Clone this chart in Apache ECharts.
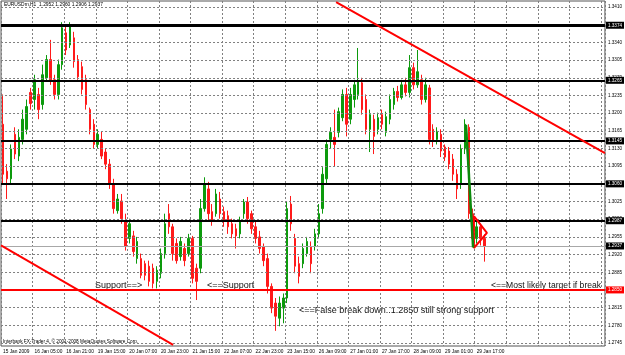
<!DOCTYPE html>
<html><head><meta charset="utf-8">
<script src="https://cdn.jsdelivr.net/npm/echarts@6/dist/echarts.min.js"></script>
<style>html,body{margin:0;padding:0;background:#fff}#c{width:625px;height:355px}</style>
</head><body><div id="c"></div>
<script>
// ---- data ----
const xLabels = ["15 Jan 2009","16 Jan 05:00","16 Jan 21:00","19 Jan 15:00","20 Jan 07:00","20 Jan 23:00","21 Jan 15:00","22 Jan 07:00","22 Jan 23:00","23 Jan 15:00","26 Jan 09:00","27 Jan 01:00","27 Jan 17:00","28 Jan 09:00","29 Jan 01:00","29 Jan 17:00"];
const barsPerLabel = 8;
const totalSlots = 153;
const yTicks = [1.3410,1.3375,1.3340,1.3305,1.3270,1.3235,1.3200,1.3165,1.3130,1.3095,1.3060,1.3025,1.2990,1.2955,1.2920,1.2885,1.2850,1.2815,1.2780,1.2745];
// [open, close, low, high]
const candles = [
[1.3178,1.3079,1.3060,1.3237],[1.3085,1.3070,1.3030,1.3099],[1.3070,1.3129,1.3060,1.3138],[1.3158,1.3119,1.3109,1.3172],
[1.3115,1.3152,1.3105,1.3168],[1.3148,1.3188,1.3138,1.3207],[1.3168,1.3213,1.3158,1.3227],[1.3241,1.3219,1.3207,1.3250],
[1.3227,1.3266,1.3207,1.3276],[1.3237,1.3207,1.3188,1.3250],[1.3217,1.3276,1.3207,1.3296],[1.3270,1.3306,1.3262,1.3315],
[1.3306,1.3266,1.3256,1.3345],[1.3266,1.3237,1.3227,1.3276],[1.3237,1.3296,1.3227,1.3306],[1.3296,1.3369,1.3286,1.3380],
[1.3359,1.3325,1.3315,1.3376],[1.3335,1.3374,1.3329,1.3380],[1.3349,1.3302,1.3290,1.3361],[1.3306,1.3272,1.3266,1.3315],
[1.3292,1.3247,1.3237,1.3302],[1.3266,1.3217,1.3207,1.3276],[1.3207,1.3168,1.3158,1.3211],[1.3178,1.3138,1.3129,1.3188],
[1.3138,1.3158,1.3129,1.3168],[1.3148,1.3115,1.3109,1.3164],[1.3123,1.3099,1.3089,1.3129],[1.3099,1.3060,1.3050,1.3109],
[1.3060,1.3011,1.3001,1.3070],[1.3007,1.3030,1.3001,1.3040],[1.3026,1.2991,1.2981,1.3040],[1.2985,1.2936,1.2928,1.3001],
[1.2952,1.2981,1.2942,1.2991],[1.2957,1.2926,1.2916,1.2967],[1.2912,1.2946,1.2902,1.2955],[1.2912,1.2879,1.2873,1.2922],
[1.2902,1.2879,1.2869,1.2908],[1.2897,1.2867,1.2857,1.2908],[1.2893,1.2863,1.2853,1.2902],[1.2867,1.2889,1.2853,1.2897],
[1.2883,1.2922,1.2873,1.2932],[1.2922,1.2981,1.2912,1.3001],[1.3001,1.2975,1.2961,1.3020],[1.2975,1.2922,1.2908,1.2981],
[1.2942,1.2908,1.2902,1.2952],[1.2916,1.2946,1.2908,1.2955],[1.2932,1.2908,1.2897,1.2942],[1.2922,1.2952,1.2916,1.2961],
[1.2952,1.2873,1.2863,1.2957],[1.2893,1.2867,1.2830,1.2902],[1.2893,1.3011,1.2883,1.3030],[1.3011,1.3060,1.3005,1.3073],
[1.3050,1.3001,1.2987,1.3064],[1.3005,1.2987,1.2977,1.3020],[1.3001,1.3040,1.2995,1.3050],[1.3030,1.3001,1.2991,1.3044],
[1.3005,1.2987,1.2975,1.3015],[1.2997,1.2975,1.2961,1.3007],[1.2981,1.2961,1.2952,1.2991],[1.2971,1.2957,1.2932,1.2981],
[1.2961,1.2987,1.2952,1.2995],[1.3001,1.3024,1.2991,1.3030],[1.3024,1.2991,1.2981,1.3034],[1.3001,1.2971,1.2961,1.3007],
[1.2975,1.2952,1.2942,1.2987],[1.2955,1.2932,1.2922,1.2967],[1.2936,1.2908,1.2897,1.2942],[1.2912,1.2857,1.2843,1.2922],
[1.2857,1.2814,1.2804,1.2863],[1.2824,1.2798,1.2769,1.2834],[1.2794,1.2824,1.2778,1.2837],[1.2814,1.2834,1.2784,1.2843],
[1.2834,1.3011,1.2824,1.3024],[1.3020,1.2981,1.2967,1.3036],[1.2952,1.2897,1.2883,1.2961],[1.2902,1.2877,1.2863,1.2916],
[1.2902,1.2932,1.2893,1.2942],[1.2922,1.2946,1.2916,1.2955],[1.2936,1.2902,1.2883,1.2946],[1.2936,1.2961,1.2928,1.2971],
[1.2961,1.3001,1.2952,1.3020],[1.3011,1.3079,1.3001,1.3093],[1.3070,1.3138,1.3060,1.3148],[1.3148,1.3162,1.3129,1.3172],
[1.3152,1.3138,1.3095,1.3207],[1.3162,1.3203,1.3152,1.3211],[1.3191,1.3237,1.3184,1.3247],[1.3237,1.3178,1.3154,1.3250],
[1.3188,1.3237,1.3178,1.3250],[1.3227,1.3256,1.3211,1.3266],[1.3237,1.3262,1.3227,1.3329],[1.3260,1.3207,1.3197,1.3270],
[1.3227,1.3168,1.3158,1.3237],[1.3168,1.3197,1.3123,1.3207],[1.3188,1.3154,1.3119,1.3197],[1.3168,1.3191,1.3158,1.3201],
[1.3197,1.3178,1.3168,1.3207],[1.3162,1.3193,1.3154,1.3203],[1.3188,1.3227,1.3178,1.3237],[1.3217,1.3243,1.3207,1.3250],
[1.3243,1.3231,1.3223,1.3254],[1.3231,1.3256,1.3227,1.3266],[1.3256,1.3241,1.3233,1.3270],[1.3241,1.3290,1.3231,1.3315],
[1.3290,1.3256,1.3247,1.3300],[1.3256,1.3282,1.3250,1.3325],[1.3266,1.3227,1.3217,1.3276],[1.3227,1.3256,1.3221,1.3270],
[1.3250,1.3148,1.3138,1.3256],[1.3168,1.3144,1.3133,1.3178],[1.3148,1.3164,1.3138,1.3172],[1.3158,1.3125,1.3113,1.3168],
[1.3133,1.3113,1.3105,1.3138],[1.3125,1.3099,1.3089,1.3133],[1.3109,1.3079,1.3066,1.3119],[1.3079,1.3050,1.3030,1.3089],
[1.3060,1.3129,1.3050,1.3138],[1.3129,1.3178,1.3119,1.3188],[1.3172,1.3001,1.2991,1.3178],[1.3001,1.2952,1.2936,1.3011],
[1.2952,1.2975,1.2942,1.2987],[1.2975,1.2952,1.2938,1.2981],[1.2952,1.2937,1.2906,1.2960]
];
const levels = [1.3374, 1.3265, 1.3145, 1.3060, 1.2987];
const currentPrice = 1.2937;
const supportLevel = 1.2850;
// drawn objects, in (bar index, price)
const upperTrend = [[84.4, 1.3420], [152.5, 1.3121]];
const lowerTrend = [[-0.5, 1.2938], [43.1, 1.2741]];
const triangle = [[119.3, 1.2996], [122.6, 1.2963], [119.3, 1.2933], [119.3, 1.2996]];
const greenStroke = [[117.3, 1.3177], [119.1, 1.2934]];
const header = "EURUSDm,H1  1.2952 1.2960 1.2906 1.2937";
const footer = "Interbank FX-Trader 4, \u00a9 2001-2008 MetaQuotes Software Corp.";

// ---- chart ----
const cats = Array.from({length: totalSlots}, (_, i) => String(i));
const FONT = '"Liberation Sans", Arial, sans-serif';
const chart = echarts.init(document.getElementById('c'), null, {renderer: 'canvas'});
const boxLabel = (bg) => ({show: true, position: 'end', distance: 1, formatter: p => Number(p.value).toFixed(4),
  backgroundColor: bg, color: '#fff', fontSize: 4.6, fontFamily: FONT, padding: [1, 2, 1, 2]});
const levelLines = levels.map((v, i) => ({yAxis: v, lineStyle: {color: '#000', width: i === 0 ? 3 : 2, type: 'solid'}, label: boxLabel('#000')}));
levelLines.push({yAxis: currentPrice, lineStyle: {color: '#a8a8a8', width: 1, type: 'solid'}, label: boxLabel('#000')});
levelLines.push({yAxis: supportLevel, lineStyle: {color: '#ff0000', width: 2, type: 'solid'}, label: boxLabel('#ff0000')});
const drawn = (data, color, width) => ({type: 'line', xAxisIndex: 1, data, symbol: 'none', silent: true, z: 6,
  lineStyle: {color, width}, animation: false});

chart.setOption({
  animation: false,
  backgroundColor: '#fff',
  grid: {left: 1, top: 1, width: 604, height: 345, show: true, borderColor: '#555', borderWidth: 1},
  xAxis: [{
    type: 'category', data: cats, boundaryGap: true,
    axisLine: {show: false}, axisTick: {show: false},
    axisLabel: {interval: barsPerLabel - 1, formatter: (v, i) => xLabels[i / barsPerLabel] || '',
      fontSize: 4.8, color: '#000', align: 'left', margin: 3, fontFamily: FONT},
    splitLine: {show: true, interval: barsPerLabel - 1, lineStyle: {type: [2, 2], color: '#808080', width: 1}}
  }, {type: 'value', min: -0.5, max: totalSlots - 0.5, show: false}],
  yAxis: {
    type: 'value', position: 'right', min: 1.2739, max: 1.3422,
    axisLine: {show: false}, axisTick: {show: false}, splitLine: {show: false},
    axisLabel: {customValues: yTicks, formatter: v => v.toFixed(4), fontSize: 4.6, color: '#000', margin: 3, fontFamily: FONT}
  },
  series: [
    {type: 'line', xAxisIndex: 1, data: [], z: 1, silent: true,
      markLine: {silent: true, precision: 4, symbol: ['none', 'none'], label: {show: false}, animation: false,
        lineStyle: {type: [2, 2], color: '#808080', width: 1}, data: yTicks.map(v => ({yAxis: v}))}},
    {type: 'candlestick', data: candles, barWidth: 2, z: 3, silent: true,
      itemStyle: {color: '#0c9a0c', color0: '#ff1a1a', borderColor: '#0c9a0c', borderColor0: '#ff1a1a', borderWidth: 1}},
    {type: 'line', xAxisIndex: 1, data: [], z: 4, silent: true,
      markLine: {silent: true, precision: 4, symbol: ['none', 'none'], animation: false, data: levelLines}},
    drawn(upperTrend, '#ff0000', 2),
    drawn(lowerTrend, '#ff0000', 2),
    drawn(triangle, '#ff0000', 2),
    drawn(greenStroke, '#0c8a0c', 2.5)
  ],
  graphic: [
    {type: 'text', left: 4, top: 2, silent: true, style: {text: header, font: '4.9px ' + FONT, fill: '#000'}},
    {type: 'text', left: 95, top: 281, silent: true, style: {text: 'Support==>', font: '9px ' + FONT, fill: '#111'}},
    {type: 'text', left: 207, top: 281, silent: true, style: {text: '<==Support', font: '9px ' + FONT, fill: '#111'}},
    {type: 'text', left: 491, top: 281, silent: true, style: {text: '<==Most likely target if break', font: '8.6px ' + FONT, fill: '#111'}},
    {type: 'text', left: 299, top: 306, silent: true, style: {text: '<==False break down..1.2850 still strong support', font: '9px ' + FONT, fill: '#111'}},
    {type: 'text', left: 3, top: 339, silent: true, style: {text: footer, font: '4.7px ' + FONT, fill: '#000'}}
  ]
});
</script></body></html>
